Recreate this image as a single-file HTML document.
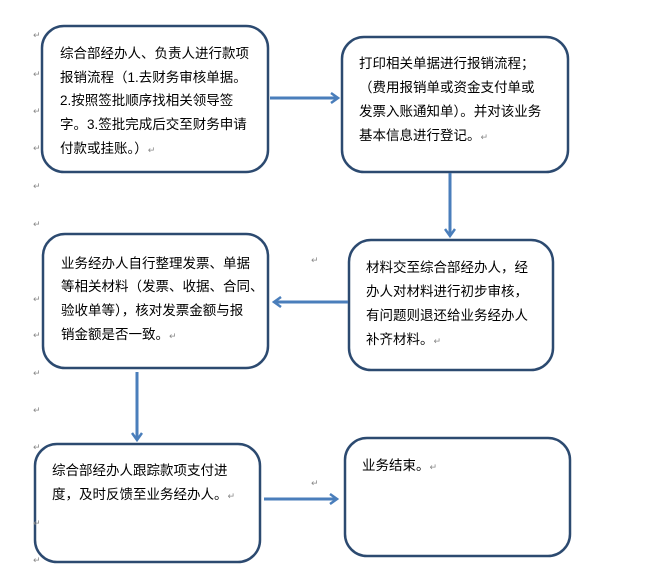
<!DOCTYPE html>
<html><head><meta charset="utf-8"><style>
html,body{margin:0;padding:0;background:#fff;}
svg{display:block;}
.t{font-family:"Liberation Sans","Noto Sans CJK SC",sans-serif;font-size:13.5px;fill:#000;}
.m{font-family:"Liberation Sans","DejaVu Sans",sans-serif;font-size:9px;fill:#888;}
</style></head><body>
<svg width="665" height="573" viewBox="0 0 665 573" xmlns="http://www.w3.org/2000/svg">
<defs>
<marker id="ah" markerWidth="10" markerHeight="12" refX="8" refY="6" orient="auto" markerUnits="userSpaceOnUse">
<path d="M1,1 L8,6 L1,11" fill="none" stroke="#4a7ebb" stroke-width="2.5"/>
</marker>
</defs>
<g fill="#fff" stroke="#2c4a70" stroke-width="2.5">
<rect x="42" y="26" width="226" height="146" rx="22"/>
<rect x="342" y="37" width="226" height="135" rx="22"/>
<rect x="43" y="234" width="225" height="134" rx="22"/>
<rect x="349" y="240" width="204" height="130" rx="22"/>
<rect x="35" y="444" width="225" height="118" rx="22"/>
<rect x="345" y="438" width="225" height="118" rx="22"/>
</g>
<g stroke="#4a7ebb" stroke-width="3" fill="none" marker-end="url(#ah)">
<line x1="270" y1="98" x2="338" y2="98"/>
<line x1="450" y1="173" x2="450" y2="236"/>
<line x1="348" y1="302" x2="274" y2="302"/>
<line x1="137" y1="372" x2="137" y2="440"/>
<line x1="264" y1="499" x2="337" y2="499"/>
</g>
<text class="t" x="60" y="58">综合部经办人、负责人进行款项</text>
<text class="t" x="60" y="82">报销流程（1.去财务审核单据。</text>
<text class="t" x="60" y="105">2.按照签批顺序找相关领导签</text>
<text class="t" x="60" y="129">字。3.签批完成后交至财务申请</text>
<text class="t" x="60" y="153">付款或挂账。）<tspan class="m">↵</tspan></text>

<text class="t" x="359" y="68">打印相关单据进行报销流程；</text>
<text class="t" x="359" y="92">（费用报销单或资金支付单或</text>
<text class="t" x="359" y="116">发票入账通知单）。并对该业务</text>
<text class="t" x="359" y="140">基本信息进行登记。<tspan class="m">↵</tspan></text>

<text class="t" x="61" y="268">业务经办人自行整理发票、单据</text>
<text class="t" x="61" y="291">等相关材料（发票、收据、合同、</text>
<text class="t" x="61" y="315">验收单等），核对发票金额与报</text>
<text class="t" x="61" y="339">销金额是否一致。<tspan class="m">↵</tspan></text>

<text class="t" x="366" y="272">材料交至综合部经办人，经</text>
<text class="t" x="366" y="296">办人对材料进行初步审核，</text>
<text class="t" x="366" y="320">有问题则退还给业务经办人</text>
<text class="t" x="366" y="344">补齐材料。<tspan class="m">↵</tspan></text>

<text class="t" x="52" y="475">综合部经办人跟踪款项支付进</text>
<text class="t" x="52" y="499">度，及时反馈至业务经办人。<tspan class="m">↵</tspan></text>

<text class="t" x="362" y="470">业务结束。<tspan class="m">↵</tspan></text>

<g class="m">
<text x="33" y="38">↵</text><text x="33" y="77">↵</text><text x="33" y="114">↵</text><text x="33" y="151">↵</text>
<text x="33" y="189">↵</text><text x="33" y="227">↵</text><text x="33" y="302">↵</text><text x="33" y="338">↵</text>
<text x="33" y="376">↵</text><text x="33" y="413">↵</text><text x="33" y="450">↵</text><text x="33" y="526">↵</text>
<text x="33" y="563">↵</text><text x="311" y="263">↵</text><text x="311" y="486">↵</text>
</g>
</svg>
</body></html>
